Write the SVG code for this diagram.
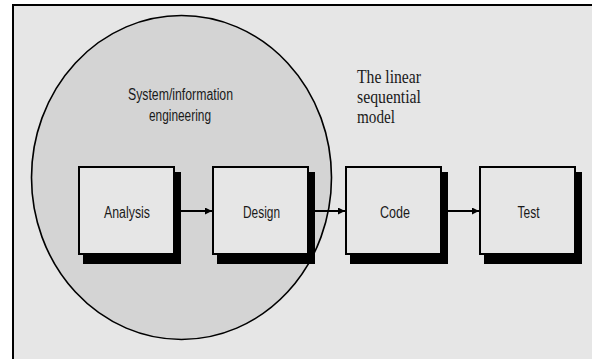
<svg xmlns="http://www.w3.org/2000/svg" width="592" height="359" viewBox="0 0 592 359">
<defs>
<style>
.box{fill:#e6e6e6;stroke:#000;stroke-width:2}
.shadow{fill:#000}
.lbl{font-family:"Liberation Sans",Arial,sans-serif;font-size:16px;fill:#1a1a1a;text-anchor:middle}
.note{font-family:"Liberation Serif","Times New Roman",serif;font-size:19px;fill:#1a1a1a}
.conn{stroke:#000;stroke-width:2;fill:none}
</style>
<marker id="ah" viewBox="0 0 10 10" refX="10" refY="5" markerWidth="8" markerHeight="7" markerUnits="userSpaceOnUse" orient="auto">
<path d="M0,0 L10,5 L0,10 z" fill="#000"/>
</marker>
</defs>
<rect x="0" y="0" width="592" height="359" fill="#fff"/>
<rect x="13" y="5" width="600" height="380" fill="#e6e6e6" stroke="#000" stroke-width="2"/>
<g id="scope">
<ellipse cx="181.5" cy="177.5" rx="150" ry="162" fill="#d4d4d4" stroke="#000" stroke-width="1.6"/>
<text class="lbl" x="180.5" y="100" textLength="105" lengthAdjust="spacingAndGlyphs">System/information</text>
<text class="lbl" x="180" y="120.5" textLength="62" lengthAdjust="spacingAndGlyphs">engineering</text>
</g>
<g id="model-label">
<text class="note" x="357" y="82.5" textLength="64" lengthAdjust="spacingAndGlyphs">The linear</text>
<text class="note" x="357" y="102.5" textLength="64" lengthAdjust="spacingAndGlyphs">sequential</text>
<text class="note" x="357" y="123" textLength="38" lengthAdjust="spacingAndGlyphs">model</text>
</g>
<g id="analysis">
<rect class="shadow" x="83" y="172" width="98" height="92"/>
<rect class="box" x="79" y="167" width="95" height="87"/>
<text class="lbl" x="127" y="218" textLength="46" lengthAdjust="spacingAndGlyphs">Analysis</text>
</g>
<g id="design">
<rect class="shadow" x="217" y="172" width="98" height="92"/>
<rect class="box" x="213" y="167" width="95" height="87"/>
<text class="lbl" x="261.5" y="218" textLength="37" lengthAdjust="spacingAndGlyphs">Design</text>
</g>
<g id="code">
<rect class="shadow" x="350" y="172" width="98" height="92"/>
<rect class="box" x="346" y="167" width="95" height="87"/>
<text class="lbl" x="395" y="218" textLength="30" lengthAdjust="spacingAndGlyphs">Code</text>
</g>
<g id="test">
<rect class="shadow" x="484" y="172" width="98" height="92"/>
<rect class="box" x="480" y="167" width="95" height="87"/>
<text class="lbl" x="528.5" y="218" textLength="22" lengthAdjust="spacingAndGlyphs">Test</text>
</g>
<g id="connectors">
<line class="conn" x1="181" y1="211" x2="212" y2="211" marker-end="url(#ah)"/>
<line class="conn" x1="315" y1="211" x2="345" y2="211" marker-end="url(#ah)"/>
<line class="conn" x1="448" y1="211" x2="479" y2="211" marker-end="url(#ah)"/>
</g>
</svg>
